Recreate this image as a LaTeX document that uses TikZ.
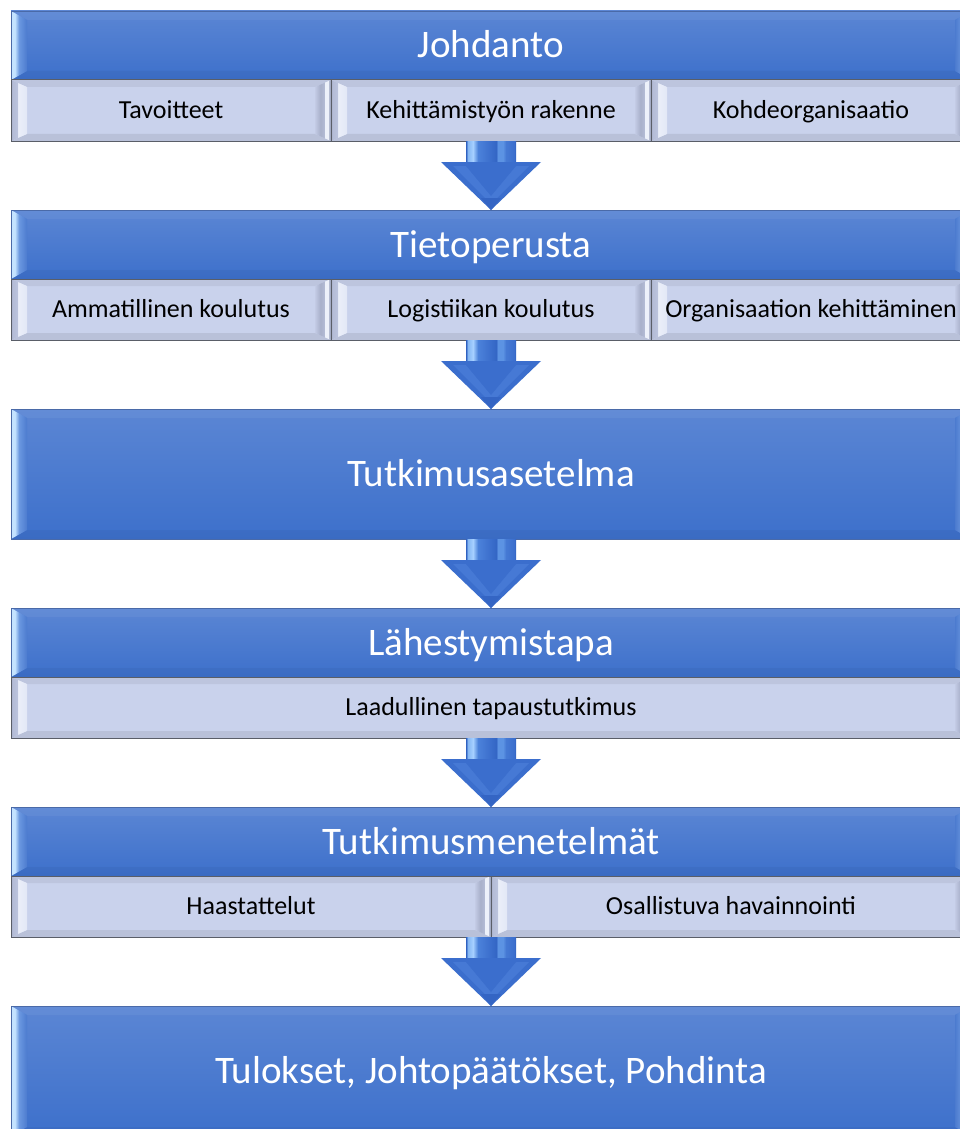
\documentclass[tikz,border=0pt]{standalone}
\usepackage{fontspec}
\setmainfont{Carlito}
\usetikzlibrary{calc}

% palette
\definecolor{hdrTop}{HTML}{5B86D4}
\definecolor{hdrBot}{HTML}{3D70CB}
\definecolor{hdrLine}{HTML}{4A6AA8}
\definecolor{subFill}{HTML}{C9D2EC}
\definecolor{subLine}{HTML}{5A5E68}
\definecolor{arrHead}{HTML}{3B6ECD}
\definecolor{arrInner}{HTML}{4679D5}
\definecolor{arrDark}{HTML}{3465C4}

% bevel colours
\definecolor{hlA}{HTML}{8DB9EE}
\definecolor{hlB}{HTML}{C4E3FF}
\definecolor{hlC}{HTML}{6B98E0}
\definecolor{hlD}{HTML}{4C7BCF}
\definecolor{slA}{HTML}{A3ABC4}
\definecolor{slB}{HTML}{B5BDD7}
\definecolor{slC}{HTML}{BAC2DC}
\definecolor{slD}{HTML}{EBEFF9}
\definecolor{slE}{HTML}{E2E7F6}
\definecolor{srA}{HTML}{C3CBE5}
\definecolor{srB}{HTML}{A8B0CA}
\definecolor{srC}{HTML}{B3BBD4}
\definecolor{srD}{HTML}{EDF1FA}
\definecolor{srE}{HTML}{9EA6BE}
\definecolor{shA}{HTML}{2F61C0}
\definecolor{shB}{HTML}{86B8F4}
\definecolor{shC}{HTML}{A6D0FF}
\definecolor{shD}{HTML}{4C82DA}
\definecolor{shE}{HTML}{3C6FCD}
\definecolor{shF}{HTML}{3466C5}
\definecolor{shG}{HTML}{5C93E3}
\definecolor{shH}{HTML}{4579D4}

% side faces of the bevelled boxes
\pgfdeclarehorizontalshading{hdrLeft}{100bp}{color(0bp)=(hlA); color(25bp)=(hlA); color(27bp)=(hlB); color(37bp)=(hlB); color(50bp)=(hlC); color(75bp)=(hlD); color(100bp)=(hlD)}
\pgfdeclarehorizontalshading{hdrRight}{100bp}{color(0bp)=(hlD); color(25bp)=(hlD); color(50bp)=(hlC); color(63bp)=(hlB); color(73bp)=(hlB); color(75bp)=(hlA); color(100bp)=(hlA)}
\pgfdeclarehorizontalshading{subLeft}{100bp}{color(0bp)=(slA); color(25bp)=(slA); color(30bp)=(slB); color(45bp)=(slC); color(47bp)=(slD); color(75bp)=(slE); color(100bp)=(slE)}
\pgfdeclarehorizontalshading{subRight}{100bp}{color(0bp)=(srA); color(25bp)=(srA); color(42bp)=(srB); color(54bp)=(srC); color(56bp)=(srD); color(67bp)=(srD); color(69bp)=(srB); color(75bp)=(srE); color(100bp)=(srE)}
% arrow shaft
\pgfdeclarehorizontalshading{arrShaft}{100bp}{color(0bp)=(shA); color(25bp)=(shA); color(27bp)=(shB); color(32bp)=(shC); color(37bp)=(shD); color(49bp)=(shE); color(55bp)=(shF); color(57bp)=(shG); color(62bp)=(shG); color(65bp)=(shH); color(73bp)=(shE); color(75bp)=(shA); color(100bp)=(shA)}

% bevel faces drawn inside a node: side width, depth, top, bottom, left shading, right shading
\newcommand\bevelfaces[6]{%
  \coordinate (bvA) at (path picture bounding box.south west);
  \coordinate (bvC) at (path picture bounding box.north east);
  \coordinate (bvB) at (bvC |- bvA);
  \coordinate (bvD) at (bvA |- bvC);
  \fill[#3] (bvD) -- (bvC) -- ($(bvC)+(-#1,-#2)$) -- ($(bvD)+(#1,-#2)$) -- cycle;
  \fill[#4] (bvA) -- (bvB) -- ($(bvB)+(-#1,#2)$) -- ($(bvA)+(#1,#2)$) -- cycle;
  \shade[shading=#5] (bvA) -- (bvD) -- ($(bvD)+(#1,-#2)$) -- ($(bvA)+(#1,#2)$) -- cycle;
  \shade[shading=#6] (bvB) -- (bvC) -- ($(bvC)+(-#1,-#2)$) -- ($(bvB)+(-#1,#2)$) -- cycle;
}

% block arrow from one box to the next
\newcommand\blockarrow[2]{%
  \coordinate (arS) at (#1);
  \coordinate (arT) at (#2);
  \shade[shading=arrShaft] ($(arS)+(-25pt,0pt)$) rectangle ($(arT)+(25pt,47pt)$);
  \fill[arrHead] ($(arT)+(-50pt,48pt)$) -- ($(arT)+(50pt,48pt)$) -- (arT) -- cycle;
  \fill[arrInner] ($(arT)+(-38pt,44pt)$) -- ($(arT)+(38pt,44pt)$) -- ($(arT)+(0pt,6pt)$) -- cycle;
  \fill[arrHead] ($(arT)+(-25pt,44pt)$) -- ($(arT)+(25pt,44pt)$) -- ($(arT)+(0pt,14pt)$) -- cycle;
  \fill[arrDark] ($(arT)+(-10pt,12pt)$) -- ($(arT)+(10pt,12pt)$) -- (arT) -- cycle;
}

\tikzset{
  hdr/.style={rectangle, anchor=north west, outer sep=0pt, inner sep=0pt,
    minimum width=960pt, minimum height=69pt,
    top color=hdrTop, bottom color=hdrBot, draw=hdrLine, line width=0.8pt,
    text=white, font=\fontsize{39}{45}\selectfont, text height=25pt, text depth=0pt,
    path picture={\bevelfaces{16pt}{9pt}{fill=white,fill opacity=0.05}{fill=black,fill opacity=0.04}{hdrLeft}{hdrRight}}},
  tall/.style={minimum height=130pt},
  sub/.style={rectangle, anchor=north west, outer sep=0pt, inner sep=0pt,
    minimum height=61pt, fill=subFill, draw=subLine, line width=1pt,
    text=black, font=\fontsize{26}{30}\selectfont, text height=16.7pt, text depth=0pt,
    path picture={\bevelfaces{16pt}{7pt}{fill=black,fill opacity=0.06}{fill=black,fill opacity=0.08}{subLeft}{subRight}}},
  third/.style={minimum width=320pt},
  half/.style={minimum width=480pt},
  full/.style={minimum width=960pt}
}

\begin{document}
\begin{tikzpicture}[x=1pt,y=-1pt]
\useasboundingbox (0,0) rectangle (960,1129);
\fill[white] (0,0) rectangle (960,1129);
\clip (0,0) rectangle (960,1129);

% Johdanto
\node[hdr] (h1) at (11,11) {Johdanto};
\node[sub, third] (s1a) at (h1.south west) {Tavoitteet};
\node[sub, third] (s1b) at (s1a.north east) {Kehittämistyön rakenne};
\node[sub, third] (s1c) at (s1b.north east) {Kohdeorganisaatio};

% Tietoperusta
\node[hdr] (h2) at (11,210) {Tietoperusta};
\node[sub, third] (s2a) at (h2.south west) {Ammatillinen koulutus};
\node[sub, third] (s2b) at (s2a.north east) {Logistiikan koulutus};
\node[sub, third] (s2c) at (s2b.north east) {Organisaation kehittäminen};

% Tutkimusasetelma
\node[hdr, tall] (h3) at (11,409) {Tutkimusasetelma};

% Lähestymistapa
\node[hdr] (h4) at (11,608) {Lähestymistapa};
\node[sub, full] (s4) at (h4.south west) {Laadullinen tapaustutkimus};

% Tutkimusmenetelmät
\node[hdr] (h5) at (11,807) {Tutkimusmenetelmät};
\node[sub, half] (s5a) at (h5.south west) {Haastattelut};
\node[sub, half] (s5b) at (s5a.north east) {Osallistuva havainnointi};

% Tulokset
\node[hdr, tall] (h6) at (11,1006) {Tulokset, Johtopäätökset, Pohdinta};

% flow arrows
\blockarrow{s1b.south}{h2.north}
\blockarrow{s2b.south}{h3.north}
\blockarrow{h3.south}{h4.north}
\blockarrow{s4.south}{h5.north}
\blockarrow{s5a.south east}{h6.north}
\end{tikzpicture}
\end{document}
